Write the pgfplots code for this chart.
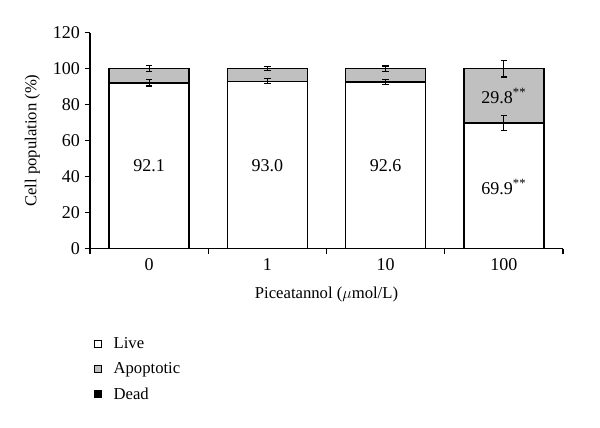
\documentclass[border=0pt]{standalone}
\usepackage{fontspec}
\setmainfont{Liberation Serif}
\usepackage{pgfplots}
\pgfplotsset{compat=1.18}
\definecolor{apop}{RGB}{192,192,192}
\begin{document}
\begin{tikzpicture}[font=\fontsize{12.5}{15}\selectfont]
\path[use as bounding box] (-67.5pt,-134.5pt) rectangle (382.5pt,186.5pt);
\begin{axis}[
  at={(0,0)}, anchor=south west,
  scale only axis, width=354.75pt, height=162pt,
  xmin=-0.5, xmax=3.5, ymin=0, ymax=120,
  axis lines=left, axis line style={-, line width=0.8pt},
  ytick={0,20,...,120},
  tick align=outside, major tick length=4pt,
  every tick/.style={black, line width=0.8pt},
  tick label style={font=\fontsize{13.5}{15}\selectfont},
  xtick={-0.5,0.5,1.5,2.5,3.5}, xticklabels={},
  extra x ticks={0,1,2,3}, extra x tick labels={0,1,10,100},
  extra x tick style={major tick length=0pt, tick label style={yshift=-4pt}},
  /pgf/number format/assume math mode=true,
  ylabel={Cell population (\%)},
  xlabel={Piceatannol ($\mu$mol/L)},
  ylabel style={yshift=3pt},
  xlabel style={yshift=-1pt},
  legend style={draw=none, at={(0.0,-0.385)}, anchor=north west, row sep=5pt,
    cells={anchor=west}, font=\fontsize{12.5}{15}\selectfont},
  legend image code/.code={\draw[#1, draw=black, line width=0.6pt] (0pt,-2.7pt) rectangle (5.4pt,2.7pt); \path (12pt,0pt);},
  error bars/error bar style={line width=0.8pt, black},
  error bars/error mark options={rotate=90, mark size=2.4pt, line width=0.9pt, black},
]
\addlegendimage{fill=white}
\addlegendentry{Live}
\addlegendimage{fill=apop}
\addlegendentry{Apoptotic}
\addlegendimage{fill=black}
\addlegendentry{Dead}
% total (apoptotic on top of live)
\addplot[ybar, bar width=60pt, bar shift=0pt, fill=apop, draw=black, line width=1pt,
  error bars/.cd, y dir=both, y explicit] coordinates {
  (0,100) +- (0,1.7)
  (1,100) +- (0,1.2)
  (2,100) +- (0,1.5)
  (3,100) +- (0,4.6)
};
% live
\addplot[ybar, bar width=60pt, bar shift=0pt, fill=white, draw=black, line width=1pt,
  error bars/.cd, y dir=both, y explicit] coordinates {
  (0,92.1) +- (0,1.7)
  (1,93.0) +- (0,1.4)
  (2,92.6) +- (0,1.4)
  (3,69.9) +- (0,4.2)
};
\node[font=\fontsize{13.5}{15}\selectfont] at (axis cs:0,46) {92.1};
\node[font=\fontsize{13.5}{15}\selectfont] at (axis cs:1,46) {93.0};
\node[font=\fontsize{13.5}{15}\selectfont] at (axis cs:2,46) {92.6};
\node[font=\fontsize{13.5}{15}\selectfont] at (axis cs:3,34.5) {69.9\textsuperscript{**}};
\node[font=\fontsize{13.5}{15}\selectfont] at (axis cs:3,84.8) {29.8\textsuperscript{**}};
\end{axis}
\end{tikzpicture}
\end{document}
